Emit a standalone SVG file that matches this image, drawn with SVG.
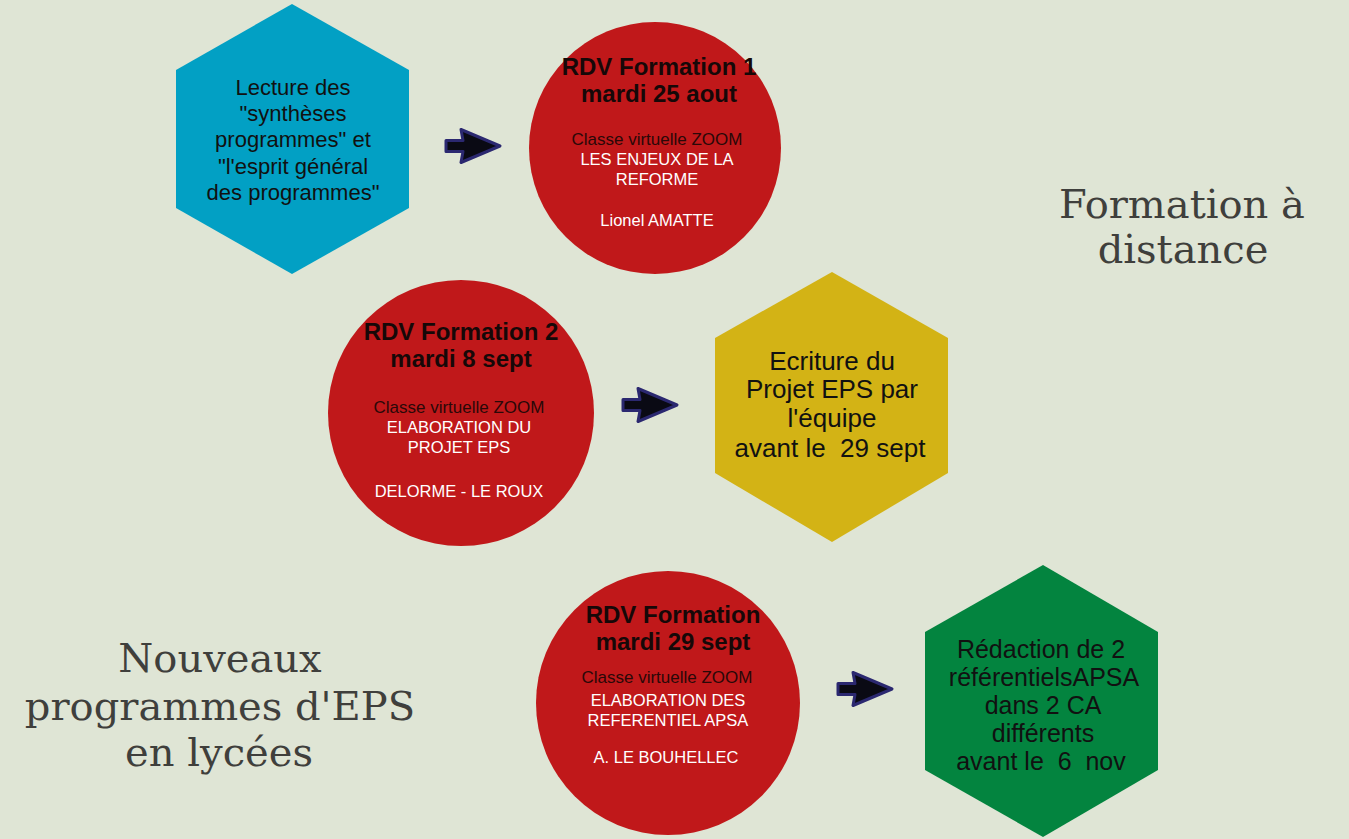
<svg xmlns="http://www.w3.org/2000/svg" xmlns:xlink="http://www.w3.org/1999/xlink" width="1349" height="839" viewBox="0 0 1349 839">
<defs>
<style>
.bg{fill:#dfe5d5}
.red{fill:#c0181a}
.hx{font-family:"Liberation Sans",Arial,sans-serif;fill:#111;text-anchor:middle}
.bold{font-family:"Liberation Sans",Arial,sans-serif;font-weight:bold;font-size:24px;fill:#160808;text-anchor:middle}
.cl{font-family:"Liberation Sans",Arial,sans-serif;font-size:17px;fill:#2a0808;text-anchor:middle}
.wh{font-family:"Liberation Sans",Arial,sans-serif;font-size:16.5px;fill:#ffffff;text-anchor:middle}
.title{font-family:"DejaVu Serif","Liberation Serif",serif;font-size:40px;fill:#3f3f3c;text-anchor:middle}
.arrow{fill:#0a0a14;stroke:#2b2870;stroke-width:3;stroke-linejoin:round}
</style>
<path id="arr" d="M-54,-5.5 L-37,-5.5 L-39,-16.5 L0,0 L-39,16.5 L-37,5.5 L-54,5.5 Z"/>
</defs>
<rect class="bg" x="0" y="0" width="1349" height="839"/>

<g id="title-right">
<text class="title" x="1182" y="218">Formation à</text>
<text class="title" x="1183" y="263">distance</text>
</g>
<g id="title-left">
<text class="title" x="220" y="672">Nouveaux</text>
<text class="title" x="220" y="720">programmes d'EPS</text>
<text class="title" x="219" y="766">en lycées</text>
</g>

<g id="hex-lecture">
<polygon points="292,4 409,70 409,208 292,274 176,208 176,70" fill="#02a0c4"/>
<text class="hx" font-size="22" x="293" y="95">Lecture des</text>
<text class="hx" font-size="22" x="293" y="121">"synthèses</text>
<text class="hx" font-size="22" x="293" y="147">programmes" et</text>
<text class="hx" font-size="22" x="293" y="174">"l'esprit général</text>
<text class="hx" font-size="22" x="293" y="200">des programmes"</text>
</g>

<g id="circle-f1">
<circle class="red" cx="655" cy="148" r="126"/>
<text class="bold" x="659" y="75">RDV Formation 1</text>
<text class="bold" x="659" y="102">mardi 25 aout</text>
<text class="cl" x="657" y="145">Classe virtuelle ZOOM</text>
<text class="wh" x="657" y="165">LES ENJEUX DE LA</text>
<text class="wh" x="657" y="185">REFORME</text>
<text class="wh" x="657" y="226">Lionel AMATTE</text>
</g>

<g id="circle-f2">
<circle class="red" cx="461" cy="413" r="133"/>
<text class="bold" x="461" y="340">RDV Formation 2</text>
<text class="bold" x="461" y="367">mardi 8 sept</text>
<text class="cl" x="459" y="413">Classe virtuelle ZOOM</text>
<text class="wh" x="459" y="433">ELABORATION DU</text>
<text class="wh" x="459" y="453">PROJET EPS</text>
<text class="wh" x="459" y="497">DELORME - LE ROUX</text>
</g>

<g id="hex-ecriture">
<polygon points="832,272 948,338 948,473 832,542 715,473 715,338" fill="#d3b315"/>
<text class="hx" font-size="26" x="832" y="370">Ecriture du</text>
<text class="hx" font-size="26" x="832" y="398">Projet EPS par</text>
<text class="hx" font-size="26" x="832" y="427">l'équipe</text>
<text class="hx" font-size="26" x="830" y="457" xml:space="preserve">avant le  29 sept</text>
</g>

<g id="circle-f3">
<circle class="red" cx="668" cy="703" r="132"/>
<text class="bold" x="673" y="623">RDV Formation</text>
<text class="bold" x="673" y="650">mardi 29 sept</text>
<text class="cl" font-size="18.5" x="667" y="683">Classe virtuelle ZOOM</text>
<text class="wh" font-size="17.3" x="668" y="706">ELABORATION DES</text>
<text class="wh" font-size="17.3" x="668" y="726">REFERENTIEL APSA</text>
<text class="wh" font-size="17.3" x="666" y="763">A. LE BOUHELLEC</text>
</g>

<g id="hex-redaction">
<polygon points="1043,565 1158,632 1158,770 1043,837 925,770 925,632" fill="#03843f"/>
<text class="hx" font-size="25" x="1041" y="658">Rédaction de 2</text>
<text class="hx" font-size="25" x="1044" y="686">référentielsAPSA</text>
<text class="hx" font-size="25" x="1043" y="714">dans 2 CA</text>
<text class="hx" font-size="25" x="1043" y="742">différents</text>
<text class="hx" font-size="25" x="1041" y="770" xml:space="preserve">avant le  6  nov</text>
</g>

<g id="connectors">
<use xlink:href="#arr" class="arrow" transform="translate(500,146)"/>
<use xlink:href="#arr" class="arrow" transform="translate(677,405)"/>
<use xlink:href="#arr" class="arrow" transform="translate(892,689)"/>
</g>
</svg>
